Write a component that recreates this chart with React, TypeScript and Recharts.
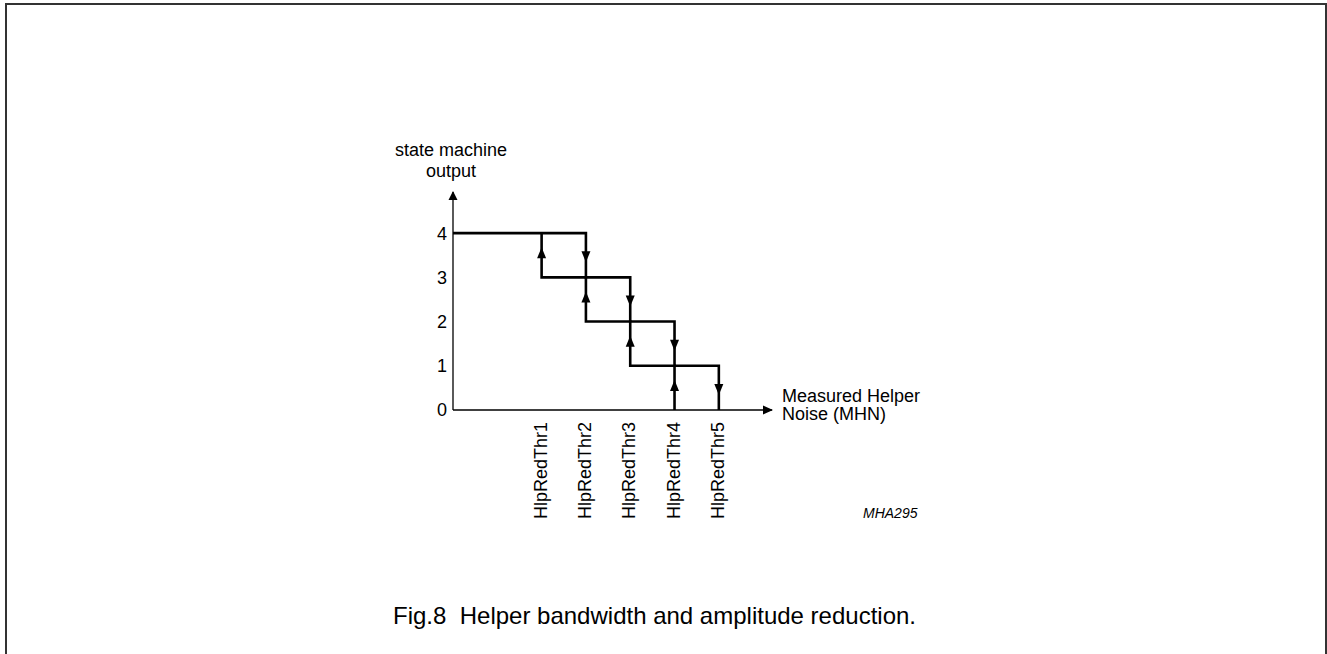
import React from "react";
import {
  ComposedChart,
  Line,
  XAxis,
  YAxis,
  ReferenceDot,
} from "recharts";

// stair paths of the state machine (x in threshold steps, y = output state)
const downPathX = [0, 3, 3, 4, 4, 5, 5, 6, 6];
const downPathY = [4, 4, 3, 3, 2, 2, 1, 1, 0];
const upPathX = [5, 5, 4, 4, 3, 3, 2, 2];
const upPathY = [0, 1, 1, 2, 2, 3, 3, 4];

// arrow heads on the vertical transitions
const downArrowX = [3, 4, 5, 6];
const downArrowY = [3.5, 2.5, 1.5, 0.5];
const upArrowX = [5, 4, 3, 2];
const upArrowY = [0.5, 1.5, 2.5, 3.5];

const thresholdX = [2, 3, 4, 5, 6];
const thresholdLabels = ["HlpRedThr1", "HlpRedThr2", "HlpRedThr3", "HlpRedThr4", "HlpRedThr5"];
const stateTicks = [0, 1, 2, 3, 4];

const X_MAX = 7.2;
const Y_MAX = 4.93;

const FONT = "'Liberation Sans', Arial, sans-serif";

const downPath = downPathX.map((x, i) => ({ x, y: downPathY[i] }));
const upPath = upPathX.map((x, i) => ({ x, y: upPathY[i] }));

const UpHead = (props: any) => {
  const { cx, cy } = props;
  return <polygon points={`${cx},${cy - 8} ${cx - 4.5},${cy + 3} ${cx + 4.5},${cy + 3}`} fill="#000" />;
};

const DownHead = (props: any) => {
  const { cx, cy } = props;
  return <polygon points={`${cx},${cy + 7} ${cx - 4.5},${cy - 4} ${cx + 4.5},${cy - 4}`} fill="#000" />;
};

const AxisRight = (props: any) => {
  const { cx, cy } = props;
  return <polygon points={`${cx + 1},${cy} ${cx - 9},${cy - 4.5} ${cx - 9},${cy + 4.5}`} fill="#000" />;
};

const AxisUp = (props: any) => {
  const { cx, cy } = props;
  return <polygon points={`${cx},${cy - 1} ${cx - 4.5},${cy + 8} ${cx + 4.5},${cy + 8}`} fill="#000" />;
};

const ThrTick = (props: any) => {
  const { x, y, index } = props;
  const tx = x + 5;
  return (
    <text
      x={tx}
      y={y}
      transform={`rotate(-90, ${tx}, ${y})`}
      textAnchor="end"
      fontSize={18}
      fontFamily={FONT}
      fill="#000"
    >
      {thresholdLabels[index]}
    </text>
  );
};

const YTitle = (props: any) => {
  const { x, y, width } = props.viewBox;
  const cx = x + width - 2;
  return (
    <text textAnchor="middle" fontSize={18} fontFamily={FONT} fill="#000">
      <tspan x={cx} y={y - 36}>state machine</tspan>
      <tspan x={cx} y={y - 15}>output</tspan>
    </text>
  );
};

const XTitle = (props: any) => {
  const { x, y, width } = props.viewBox;
  return (
    <text textAnchor="start" fontSize={18} fontFamily={FONT} fill="#000">
      <tspan x={x + width + 10} y={y - 8}>Measured Helper</tspan>
      <tspan x={x + width + 10} y={y + 10}>Noise (MHN)</tspan>
    </text>
  );
};

export default function App() {
  return (
    <div
      style={{
        position: "fixed",
        left: 0,
        top: 0,
        width: 1327,
        height: 654,
        overflow: "hidden",
        background: "#fff",
      }}
    >
      <div
        style={{
          position: "absolute",
          left: 5,
          top: 3,
          width: 1318,
          height: 700,
          borderLeft: "2px solid #333",
          borderTop: "2px solid #333",
          borderRight: "2px solid #333",
        }}
      />
      <div style={{ position: "absolute", left: 0, top: 0 }}>
        <ComposedChart
          width={1327}
          height={654}
          margin={{ top: 192, right: 555, bottom: 214, left: 413 }}
        >
          <XAxis
            dataKey="x"
            type="number"
            domain={[0, X_MAX]}
            ticks={thresholdX}
            tick={<ThrTick />}
            tickLine={false}
            tickSize={0}
            tickMargin={12}
            height={30}
            axisLine={{ stroke: "#000", strokeWidth: 1.3 }}
            allowDataOverflow
            interval={0}
            label={<XTitle />}
          />
          <YAxis
            type="number"
            domain={[0, Y_MAX]}
            ticks={stateTicks}
            tickLine={false}
            tickSize={0}
            tickMargin={6}
            width={40}
            axisLine={{ stroke: "#000", strokeWidth: 1.3 }}
            tick={{ fontSize: 18, fontFamily: FONT, fill: "#000" }}
            allowDataOverflow
            interval={0}
            label={<YTitle />}
          />
          <Line
            data={downPath}
            dataKey="y"
            type="linear"
            stroke="#000"
            strokeWidth={2.6}
            dot={false}
            activeDot={false}
            strokeLinejoin="miter"
            isAnimationActive={false}
          />
          <Line
            data={upPath}
            dataKey="y"
            type="linear"
            stroke="#000"
            strokeWidth={2.6}
            dot={false}
            activeDot={false}
            strokeLinejoin="miter"
            isAnimationActive={false}
          />
          {downArrowX.map((x, i) => (
            <ReferenceDot key={`d${i}`} x={x} y={downArrowY[i]} shape={<DownHead />} ifOverflow="visible" />
          ))}
          {upArrowX.map((x, i) => (
            <ReferenceDot key={`u${i}`} x={x} y={upArrowY[i]} shape={<UpHead />} ifOverflow="visible" />
          ))}
          <ReferenceDot x={X_MAX} y={0} shape={<AxisRight />} ifOverflow="visible" />
          <ReferenceDot x={0} y={Y_MAX} shape={<AxisUp />} ifOverflow="visible" />
        </ComposedChart>
      </div>
      <svg
        width={1327}
        height={654}
        style={{ position: "absolute", left: 0, top: 0, pointerEvents: "none" }}
      >
        <text x={863} y={518} fontSize={14} fontStyle="italic" fontFamily={FONT} fill="#000">
          MHA295
        </text>
        <text x={393} y={624} fontSize={24} fontFamily={FONT} fill="#000">
          Fig.8{"\u00a0\u00a0"}Helper bandwidth and amplitude reduction.
        </text>
      </svg>
    </div>
  );
}
